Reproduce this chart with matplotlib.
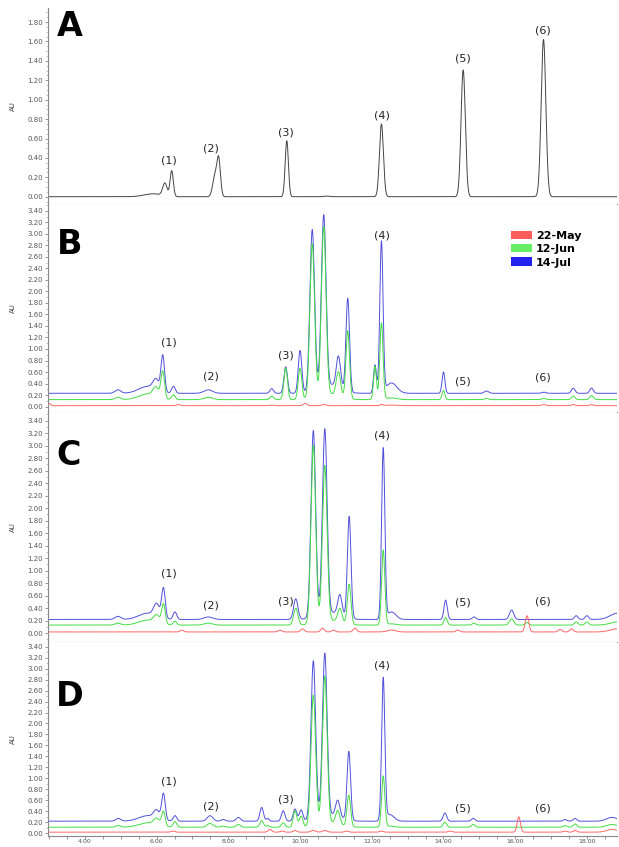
import matplotlib
matplotlib.use('Agg')
import matplotlib.pyplot as plt
import numpy as np
from matplotlib.patches import Patch
from matplotlib.ticker import MultipleLocator, FuncFormatter

# ---- data (retention time, width, height) ----
A_rt = [5.9, 6.23, 6.42, 7.62, 7.73, 9.63, 10.74, 12.27, 14.55, 16.79]
A_w = [0.25, 0.06, 0.045, 0.06, 0.05, 0.045, 0.08, 0.055, 0.06, 0.065]
A_h = [0.03, 0.13, 0.265, 0.2, 0.38, 0.577, 0.006, 0.75, 1.306, 1.62]

B_rt = [3.0, 4.92, 5.75, 5.98, 6.17, 6.47, 6.6, 7.44, 9.21, 9.6, 10.0, 10.14, 10.34,
        10.66, 10.8, 11.07, 11.33, 12.09, 12.27, 12.55, 14.0, 15.2, 16.8, 17.62, 18.13]
B_w = [0.04, 0.08, 0.25, 0.08, 0.05, 0.05, 0.05, 0.12, 0.05, 0.05, 0.05, 0.05, 0.065,
       0.065, 0.3, 0.06, 0.05, 0.04, 0.045, 0.15, 0.04, 0.06, 0.06, 0.05, 0.05]
B_blue = [0, 0.06, 0.12, 0.18, 0.63, 0.12, 0, 0.06, 0.08, 0.46, 0.74, 0, 2.80,
          2.97, 0.15, 0.55, 1.62, 0.49, 2.62, 0.18, 0.37, 0.04, 0.02, 0.09, 0.09]
B_green = [0, 0.04, 0.10, 0.16, 0.47, 0.08, 0, 0.04, 0.06, 0.55, 0.54, 0, 2.68,
           2.92, 0.10, 0.42, 1.18, 0.58, 1.33, 0.03, 0.16, 0.02, 0.02, 0.06, 0.07]
B_red = [0.04, 0, 0, 0, 0, 0, 0.02, 0, 0.01, 0, 0, 0.04, 0,
         0.02, 0, 0, 0, 0, 0.02, 0.01, 0, 0, 0.02, 0.02, 0.02]

C_rt = [4.92, 5.75, 6.0, 6.19, 6.51, 6.7, 7.44, 9.44, 9.88, 10.07, 10.37, 10.63, 10.69, 10.8, 10.93,
        11.11, 11.37, 11.53, 12.32, 12.55, 14.06, 14.4, 14.85, 15.9, 16.33, 17.25, 17.57, 17.7, 18.0, 18.85]
C_w = [0.08, 0.25, 0.08, 0.05, 0.05, 0.05, 0.12, 0.05, 0.06, 0.05, 0.065, 0.05, 0.065, 0.3, 0.05,
       0.06, 0.05, 0.05, 0.045, 0.12, 0.045, 0.05, 0.05, 0.06, 0.05, 0.05, 0.05, 0.05, 0.05, 0.2]
C_blue = [0.05, 0.10, 0.20, 0.48, 0.12, 0, 0.04, 0, 0.33, 0, 2.98, 0, 2.94, 0.12, 0,
          0.33, 1.63, 0, 2.73, 0.12, 0.31, 0, 0.04, 0.15, 0, 0, 0, 0.06, 0.06, 0.10]
C_green = [0.03, 0.08, 0.12, 0.32, 0.06, 0, 0.03, 0, 0.27, 0, 2.85, 0, 2.48, 0.08, 0,
           0.22, 0.64, 0, 1.20, 0.02, 0.12, 0, 0.03, 0.10, 0.04, 0, 0, 0.05, 0.05, 0.05]
C_red = [0, 0, 0, 0, 0, 0.03, 0, 0.03, 0, 0.05, 0, 0.06, 0, 0, 0.03,
         0, 0, 0.06, 0, 0.03, 0, 0.03, 0, 0, 0.26, 0.04, 0.05, 0, 0, 0.05]

D_rt = [4.93, 5.75, 6.0, 6.19, 6.45, 6.51, 7.49, 7.86, 8.28, 8.93, 9.1, 9.16, 9.5, 9.53, 9.86, 10.03,
        10.37, 10.69, 10.8, 11.05, 11.3, 11.36, 12.27, 12.32, 12.5, 14.04, 14.18, 14.83, 16.1, 17.39, 17.67, 18.7]
D_w = [0.07, 0.25, 0.08, 0.05, 0.05, 0.05, 0.08, 0.06, 0.06, 0.05, 0.04, 0.05, 0.05, 0.05, 0.05, 0.05,
       0.065, 0.065, 0.3, 0.06, 0.05, 0.05, 0.05, 0.045, 0.12, 0.05, 0.05, 0.05, 0.045, 0.05, 0.05, 0.15]
D_blue = [0.05, 0.10, 0.15, 0.48, 0, 0.10, 0.10, 0.03, 0.07, 0.25, 0.05, 0, 0, 0.19, 0.22, 0.20,
          2.88, 2.95, 0.12, 0.30, 0, 1.25, 0, 2.58, 0.12, 0.15, 0, 0.05, 0, 0.03, 0.05, 0.07]
D_green = [0.03, 0.08, 0.12, 0.27, 0, 0.10, 0.07, 0.02, 0.05, 0.12, 0.03, 0, 0, 0.08, 0.30, 0.20,
           2.38, 2.68, 0.08, 0.25, 0, 0.57, 0, 0.93, 0.02, 0.09, 0, 0.05, 0, 0.03, 0.06, 0.05]
D_red = [0, 0, 0, 0, 0.02, 0, 0, 0, 0, 0, 0, 0.05, 0.02, 0, 0.03, 0,
         0.03, 0.03, 0, 0, 0.02, 0, 0.02, 0, 0, 0, 0.02, 0, 0.28, 0.02, 0.03, 0.05]

# baselines (blue, green, red)
B_base = [0.23, 0.12, 0.015]
C_base = [0.22, 0.13, 0.02]
D_base = [0.22, 0.11, 0.02]

peak_names = ['(1)', '(2)', '(3)', '(4)', '(5)', '(6)']
lab_x = [6.33, 7.52, 9.6, 12.27, 14.55, 16.77]
A_lab_y = [0.37, 0.50, 0.66, 0.84, 1.42, 1.71]
B_lab_y = [1.12, 0.52, 0.89, 2.98, 0.43, 0.50]
C_lab_y = [0.96, 0.44, 0.50, 3.16, 0.49, 0.50]
D_lab_y = [0.95, 0.49, 0.61, 3.05, 0.46, 0.46]

series = ['22-May', '12-Jun', '14-Jul']
leg_colors = ['#ff5c5c', '#66ee66', '#2222ee']
line_blue, line_green, line_red = '#5050dd', '#44dd44', '#ff6666'

W, H = 619, 847
t = np.linspace(2.97, 18.84, 4000)


def trace(rt, w, h, base=0.0):
    y = np.full_like(t, base)
    for r, s, a in zip(rt, w, h):
        y += a * np.exp(-(t - r) ** 2 / (2 * s * s))
    return y


fig = plt.figure(figsize=(W / 100, H / 100), dpi=100)

# panel extents in pixels (top, bottom) and y limits
panels = [(8, 204, (-0.075, 1.945)), (204, 412, (-0.095, 3.52)),
          (412, 641.7, (-0.136, 3.54)), (641.7, 836, (-0.05, 3.49))]
axes = []
for i, (top, bot, yl) in enumerate(panels):
    ax = fig.add_axes([48 / W, 1 - bot / H, (617 - 48) / W, (bot - top) / H])
    ax.set_xlim(2.97, 18.84)
    ax.set_ylim(*yl)
    for s in ['top', 'right']:
        ax.spines[s].set_visible(False)
    for s in ['left', 'bottom']:
        ax.spines[s].set_color('#888888')
        ax.spines[s].set_linewidth(0.8)
    ymax = 1.8 if i == 0 else 3.4
    ax.set_yticks(np.arange(0, ymax + 0.01, 0.2))
    ax.yaxis.set_minor_locator(MultipleLocator(0.05 if i == 0 else 0.1))
    ax.yaxis.set_major_formatter(FuncFormatter(lambda v, p: f'{v:.2f}'))
    ax.xaxis.set_major_locator(MultipleLocator(0.5))
    if i == 3:
        ax.xaxis.set_major_formatter(FuncFormatter(
            lambda v, p: f'{v:.2f}' if abs(v / 2 - round(v / 2)) < 1e-6 else ''))
    else:
        ax.set_xticklabels([])
    ax.tick_params(axis='y', which='major', length=2.5, width=0.6, color='#888888',
                   labelsize=5, labelcolor='#555555', pad=1)
    ax.tick_params(axis='x', which='major', length=2, width=0.6, color='#888888',
                   labelsize=4.5, labelcolor='#555555', pad=0.5)
    ax.tick_params(axis='y', which='minor', length=1.3, width=0.4, color='#999999')
    fig.text(13 / W, 1 - ((top + bot) / 2) / H, 'AU', rotation=90, fontsize=5,
             color='#444444', ha='center', va='center')
    axes.append(ax)

# A: standard mix
axA = axes[0]
axA.plot(t, trace(A_rt, A_w, A_h), color='#444444', lw=0.7)
for name, x, y in zip(peak_names, lab_x, A_lab_y):
    axA.text(x, y, name, fontsize=8, ha='center', va='center', color='#222222')

samples = [(axes[1], B_rt, B_w, B_blue, B_green, B_red, B_base, B_lab_y),
           (axes[2], C_rt, C_w, C_blue, C_green, C_red, C_base, C_lab_y),
           (axes[3], D_rt, D_w, D_blue, D_green, D_red, D_base, D_lab_y)]
for ax, rt, w, hb, hg, hr, base, laby in samples:
    ax.plot(t, trace(rt, w, hb, base[0]), color=line_blue, lw=0.7)
    ax.plot(t, trace(rt, w, hg, base[1]), color=line_green, lw=0.7)
    ax.plot(t, trace(rt, w, hr, base[2]), color=line_red, lw=0.7)
    for name, x, y in zip(peak_names, lab_x, laby):
        ax.text(x, y, name, fontsize=8, ha='center', va='center', color='#222222')

for letter, (px, py) in zip('ABCD', [(70, 27), (70, 245), (69, 455), (70, 697)]):
    fig.text(px / W, 1 - py / H, letter, fontsize=24, fontweight='bold',
             ha='center', va='center', color='black')

handles = [Patch(facecolor=c, edgecolor='none') for c in leg_colors]
fig.legend(handles, series, loc='upper left', bbox_to_anchor=(505 / W, 1 - 225 / H),
           frameon=False, borderpad=0, handlelength=1.9, handleheight=0.8,
           handletextpad=0.4, labelspacing=0.3,
           prop={'size': 8, 'weight': 'bold'})

fig.savefig('out.png', dpi=100)
